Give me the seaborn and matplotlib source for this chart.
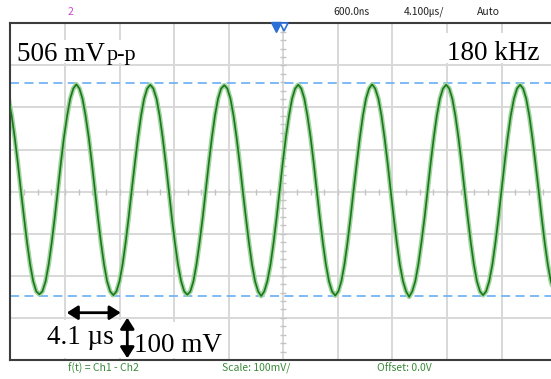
import numpy as np
import pandas as pd
import matplotlib
matplotlib.use("Agg")
import matplotlib.pyplot as plt
from matplotlib.patches import Rectangle
import seaborn as sns

# ---- data (time in µs, voltage in mV) ----
t_us = [-20.63, -20.40, -20.17, -19.94, -19.71, -19.47, -19.24, -19.01, -18.78, -18.55, -18.32,
        -18.09, -17.85, -17.62, -17.39, -17.16, -16.93, -16.70, -16.47, -16.23, -16.00, -15.77,
        -15.54, -15.31, -15.08, -14.85, -14.61, -14.38, -14.15, -13.92, -13.69, -13.46, -13.23, -13.00,
        -12.76, -12.53, -12.30, -12.07, -11.84, -11.61, -11.38, -11.14, -10.91, -10.68, -10.45, -10.22,
        -9.99, -9.76, -9.52, -9.29, -9.06, -8.83, -8.60, -8.37, -8.14, -7.91, -7.67, -7.44,
        -7.21, -6.98, -6.75, -6.52, -6.29, -6.05, -5.82, -5.59, -5.36, -5.13, -4.90, -4.67,
        -4.43, -4.20, -3.97, -3.74, -3.51, -3.28, -3.05, -2.81, -2.58, -2.35, -2.12, -1.89,
        -1.66, -1.43, -1.20, -0.96, -0.73, -0.50, -0.27, -0.04, 0.19, 0.43, 0.66, 0.89,
        1.12, 1.35, 1.58, 1.81, 2.05, 2.28, 2.51, 2.74, 2.97, 3.20, 3.43, 3.66,
        3.90, 4.13, 4.36, 4.59, 4.82, 5.05, 5.28, 5.52, 5.75, 5.98, 6.21, 6.44,
        6.67, 6.90, 7.14, 7.37, 7.60, 7.83, 8.06, 8.29, 8.52, 8.75, 8.99, 9.22,
        9.45, 9.68, 9.91, 10.14, 10.37, 10.61, 10.84, 11.07, 11.30, 11.53, 11.76, 11.99,
        12.23, 12.46, 12.69, 12.92, 13.15, 13.38, 13.61, 13.85, 14.08, 14.31, 14.54, 14.77,
        15.00, 15.23, 15.46, 15.70, 15.93, 16.16, 16.39, 16.62, 16.85, 17.08, 17.32, 17.55,
        17.78, 18.01, 18.24, 18.47, 18.70, 18.93, 19.17, 19.40, 19.63, 19.86, 20.09, 20.32, 20.56]
v_mV = [221, 181, 129, 69, 4, -61, -121, -173, -213, -237, -244,
        -237, -213, -173, -121, -61, 4, 69, 129, 181, 221, 245,
        255, 245, 221, 181, 129, 69, 4, -61, -121, -173, -213, -237,
        -246, -237, -213, -173, -121, -61, 4, 69, 129, 181, 221, 245,
        254, 245, 221, 181, 129, 69, 4, -61, -121, -173, -213, -237,
        -245, -237, -213, -173, -121, -61, 4, 69, 129, 181, 221, 245,
        253, 245, 221, 181, 129, 69, 4, -61, -121, -173, -213, -237,
        -248, -237, -213, -173, -121, -61, 4, 69, 129, 181, 221, 245,
        254, 245, 221, 181, 129, 69, 4, -61, -121, -173, -213, -237,
        -247, -237, -213, -173, -121, -61, 4, 69, 129, 181, 221, 245,
        255, 245, 221, 181, 129, 69, 4, -61, -121, -173, -213, -237,
        -250, -237, -213, -173, -121, -61, 4, 69, 129, 181, 221, 245,
        254, 245, 221, 181, 129, 69, 4, -61, -121, -173, -213, -237,
        -246, -237, -213, -173, -121, -61, 4, 69, 129, 181, 221, 245,
        254, 245, 221, 181, 129, 69, 4, -61, -121, -173, -213, -237, -246]
cursor_levels_mV = [257, -249]
header_labels = ["2", "600.0㎱", "4.100㎲/", "Auto"]
footer_labels = ["f(t) = Ch1 - Ch2", "Scale: 100mV/", "Offset: 0.0V"]
amplitude_label = "506 mV"
amplitude_sub = "p-p"
frequency_label = "180 kHz"
time_label = "4.1 µs"
volt_label = "100 mV"

W, H = 551, 379
sns.set_style("white")
fig = plt.figure(figsize=(W / 100, H / 100), dpi=100)


def fx(px):
    return px / W


def fy(py):
    return 1 - py / H


ax = fig.add_axes([fx(10.3), fy(360), 546 / W, (360 - 23.3) / H])
ax.set_xlim(-20.5, 20.5)
ax.set_ylim(-400, 400)
ax.set_xticks(np.linspace(-20.5, 20.5, 11))
ax.set_yticks(np.linspace(-400, 400, 9))
ax.tick_params(length=0, labelbottom=False, labelleft=False)
ax.grid(True, color="#d8d8d8", lw=1.4)
ax.set_axisbelow(True)
for s in ["left", "bottom", "top"]:
    ax.spines[s].set_color("#3c3c3c")
    ax.spines[s].set_linewidth(1.5)
ax.spines["right"].set_visible(False)

# minor ticks on the centre axes
xs = np.linspace(-20.5, 20.5, 41)
ax.plot(xs, np.zeros_like(xs), ls="none", marker="|", ms=4, mew=1, color="#c4c4c4", zorder=0.8)
ys = np.linspace(-400, 400, 41)
ax.plot(np.zeros_like(ys), ys, ls="none", marker="_", ms=4, mew=1, color="#c4c4c4", zorder=0.8)

# white boxes behind the annotations
for (x0, y0, x1, y1) in [(12, 40, 140, 63), (444, 33, 551, 63), (45, 320, 121, 358), (131, 322, 226, 358)]:
    ax.add_patch(Rectangle((x0, H - y1), x1 - x0, y1 - y0, transform=None,
                           facecolor="white", edgecolor="none", zorder=1))

# cursors
for lv in cursor_levels_mV:
    ax.axhline(lv, color="#74b4f4", lw=1.3, ls=(0, (5, 3)), zorder=1.5)

# waveform
df = pd.DataFrame({"t": t_us, "v": v_mV})
sns.lineplot(data=df, x="t", y="v", ax=ax, color="#9fd49f", lw=3.4, sort=False, estimator=None, zorder=2)
sns.lineplot(data=df, x="t", y="v", ax=ax, color="#1a771a", lw=1.2, sort=False, estimator=None, zorder=3)
ax.set_xlabel("")
ax.set_ylabel("")

# trigger markers
ax.plot([-0.55], [392], marker="v", ms=6.5, color="#2a6fd6", clip_on=False, zorder=5)
ax.plot([0.05], [392], marker="v", ms=6, mfc="white", mec="#2a6fd6", mew=1.2, clip_on=False, zorder=5)

# header
hdr_font = ["Liberation Sans Narrow", "Noto Sans CJK JP", "DejaVu Sans"]
fig.text(fx(70), fy(12), header_labels[0], color="#cc44cc", fontsize=7.5, ha="center", va="center", family=hdr_font)
fig.text(fx(352), fy(12), header_labels[1], color="#222222", fontsize=7.5, ha="center", va="center", family=hdr_font)
fig.text(fx(424), fy(12), header_labels[2], color="#222222", fontsize=7.5, ha="center", va="center", family=hdr_font)
fig.text(fx(488), fy(12), header_labels[3], color="#222222", fontsize=7.5, ha="center", va="center", family=hdr_font)

# footer
for lab, xc in zip(footer_labels, [103, 256, 404]):
    fig.text(fx(xc), fy(368), lab, color="#3a8a3a", fontsize=7.5, ha="center", va="center", family=hdr_font)

# annotations
serif = ["Liberation Serif", "DejaVu Serif"]
kw = dict(family=serif, va="baseline", ha="left", color="black", zorder=10)
fig.text(fx(17), fy(61), amplitude_label, fontsize=19.5, **kw)
fig.text(fx(107), fy(60), amplitude_sub, fontsize=16, **kw)
fig.text(fx(447), fy(60), frequency_label, fontsize=19.5, **kw)
fig.text(fx(47), fy(343.5), time_label, fontsize=19.5, **kw)
fig.text(fx(134), fy(352), volt_label, fontsize=19.5, **kw)

arrow = dict(arrowstyle="<|-|>,head_length=0.55,head_width=0.35", color="black", lw=2,
             mutation_scale=12, shrinkA=0, shrinkB=0)
ax.annotate("", xy=(120.7, H - 312.7), xytext=(66.7, H - 312.7),
            xycoords="figure pixels", textcoords="figure pixels", arrowprops=arrow, zorder=10)
ax.annotate("", xy=(127.3, H - 358.3), xytext=(127.3, H - 317.7),
            xycoords="figure pixels", textcoords="figure pixels", arrowprops=arrow, zorder=10)

fig.savefig("out.png", dpi=100)
